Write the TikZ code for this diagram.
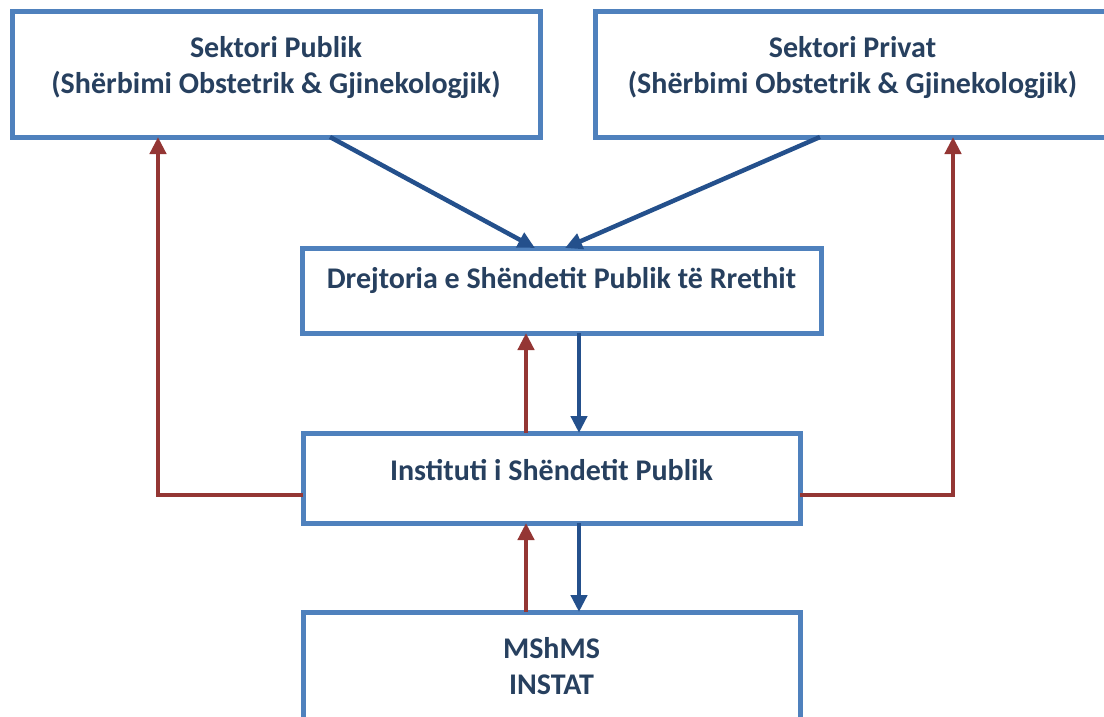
\documentclass[tikz,border=0pt]{standalone}
\usepackage{fontspec}
\setmainfont{Carlito}
\usetikzlibrary{arrows.meta,calc}
\definecolor{boxblue}{HTML}{4F81BD}
\definecolor{arrblue}{HTML}{24508C}
\definecolor{arrred}{HTML}{943634}
\definecolor{txtblue}{HTML}{27405F}
\tikzset{
  orgbox/.style={draw=boxblue, line width=5pt, fill=white, rectangle, inner sep=0pt, outer sep=0pt},
  txt/.style={text=txtblue, font=\fontsize{30}{36}\selectfont\bfseries, align=center, inner sep=0pt},
  bluearr/.style={draw=arrblue, line width=4.5pt, -{Triangle[length=17pt,width=16pt]}},
  redarr/.style={draw=arrred, line width=4.5pt, -{Triangle[length=17pt,width=16pt]}},
}
\begin{document}
\begin{tikzpicture}[x=1pt,y=-1pt]
\useasboundingbox (0,0) rectangle (1104,717);
\fill[white] (0,0) rectangle (1104,717);
\clip (0,0) rectangle (1104,717);
\node[orgbox, minimum width=528pt, minimum height=125pt,
  label={[txt,yshift=7pt]center:{Sektori Publik\\(Shërbimi Obstetrik \& Gjinekologjik)}}] (pub) at (276,74.5) {};
\node[orgbox, minimum width=515pt, minimum height=125pt,
  label={[txt,yshift=7pt]center:{Sektori Privat\\(Shërbimi Obstetrik \& Gjinekologjik)}}] (priv) at (852.5,74.5) {};
\node[orgbox, minimum width=519pt, minimum height=85pt,
  label={[txt,yshift=10pt]center:{Drejtoria e Shëndetit Publik të Rrethit}}] (drej) at (561.5,290.5) {};
\node[orgbox, minimum width=497pt, minimum height=90pt,
  label={[txt,yshift=8pt]center:{Instituti i Shëndetit Publik}}] (inst) at (551.5,478) {};
\node[orgbox, minimum width=497pt, minimum height=128pt,
  label={[txt,yshift=10pt]center:{MShMS\\INSTAT}}] (msh) at (551.5,676) {};
% blue arrows from sectors
\draw[bluearr] ([xshift=318pt]pub.south west) -- ([xshift=233pt]drej.north west);
\draw[bluearr] ([xshift=225pt]priv.south west) -- ([xshift=263pt]drej.north west);
% between drejtoria and instituti
\coordinate (dB) at ([xshift=277pt]drej.south west);
\coordinate (iR) at ([xshift=223pt]inst.north west);
\draw[bluearr] (dB) -- (dB |- inst.north);
\draw[redarr] (iR) -- (iR |- drej.south);
% between instituti and mshms
\coordinate (iB) at ([xshift=276pt]inst.south west);
\coordinate (mR) at ([xshift=223pt]msh.north west);
\draw[bluearr] (iB) -- (iB |- msh.north);
\draw[redarr] (mR) -- (mR |- inst.south);
% red side connectors
\draw[redarr] ([yshift=-17pt]inst.west) -| ([xshift=146pt]pub.south west);
\draw[redarr] ([yshift=-17pt]inst.east) -| ([xshift=358pt]priv.south west);
\end{tikzpicture}
\end{document}
